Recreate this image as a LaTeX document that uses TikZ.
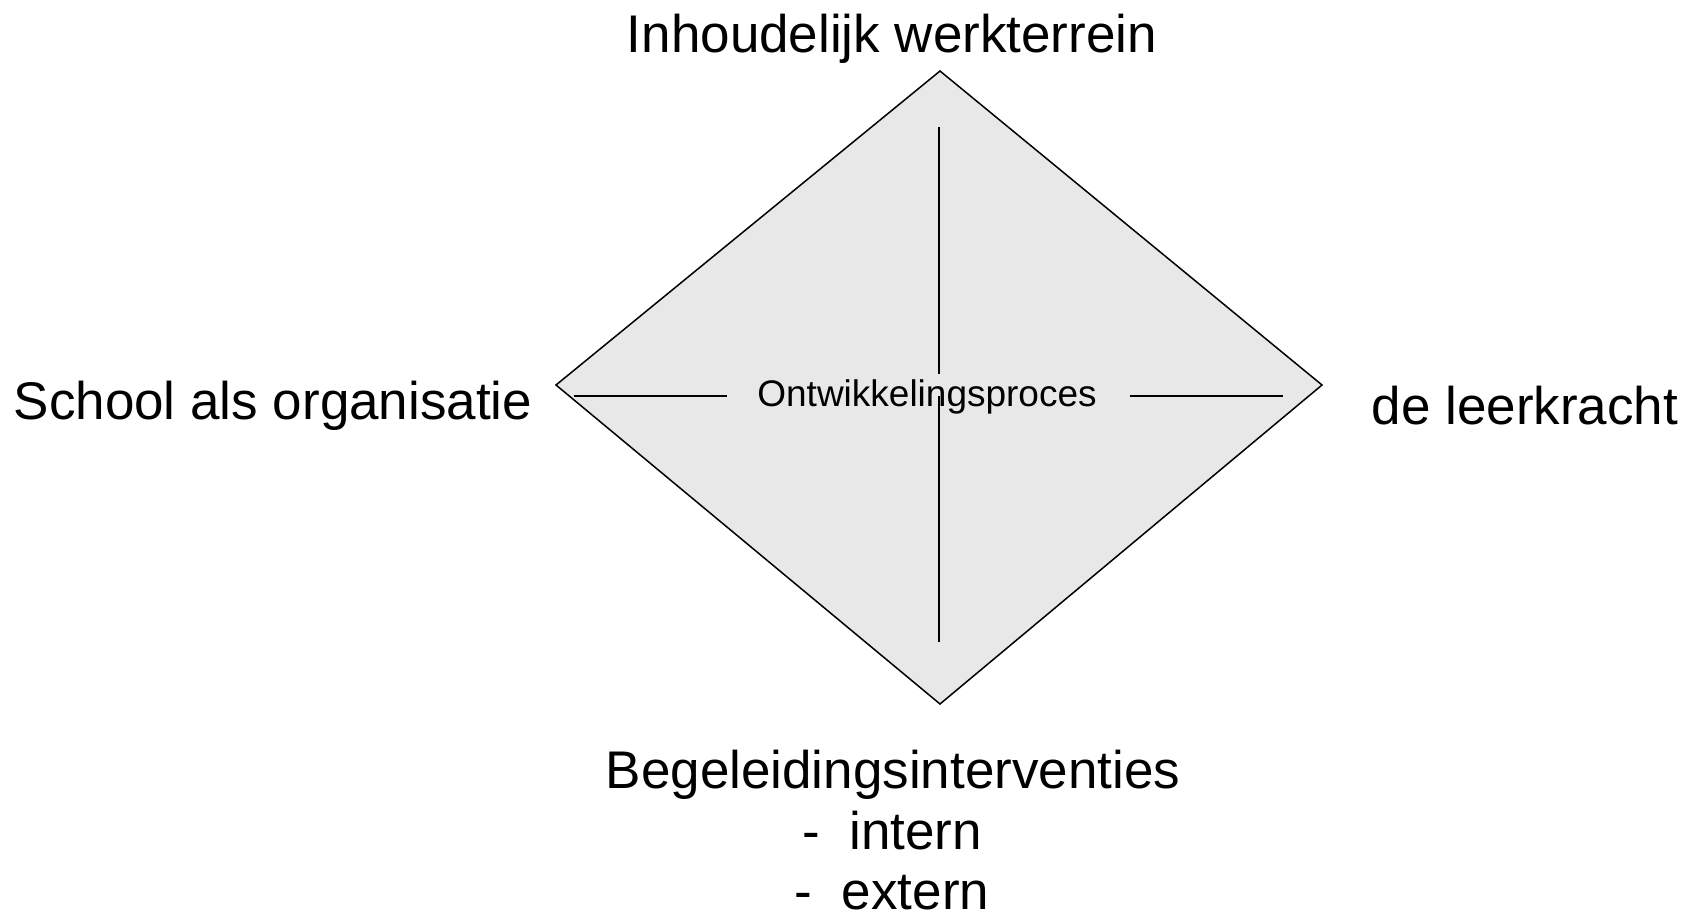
\documentclass[tikz,border=0pt]{standalone}
\usepackage{fontspec}
\setmainfont{Liberation Sans}
\definecolor{diafill}{HTML}{E8E8E8}
\begin{document}
\begin{tikzpicture}[x=1pt,y=-1pt,
  biglabel/.style={font=\fontsize{53}{62}\selectfont, inner sep=0pt, anchor=base},
  smalllabel/.style={font=\fontsize{37}{44}\selectfont, inner sep=0pt, anchor=base},
  edge/.style={draw=black, line width=1.5pt},
  axis/.style={draw=black, line width=1.5pt}]
\useasboundingbox (0,0) rectangle (1686,915);
\coordinate (T) at (940,71);
\coordinate (L) at (556,385);
\coordinate (R) at (1322,385);
\coordinate (B) at (940,704);
\filldraw[edge, fill=diafill, line join=miter] (T) -- (R) -- (B) -- (L) -- cycle;
\coordinate (v1) at (939,127);
\coordinate (v2) at (939,374);
\coordinate (v3) at (939,396);
\coordinate (v4) at (939,642);
\coordinate (h1) at (574,396);
\coordinate (h2) at (727,396);
\coordinate (h3) at (1130,396);
\coordinate (h4) at (1283,396);
\draw[axis] (v1) -- (v2);
\draw[axis] (v3) -- (v4);
\draw[axis] (h1) -- (h2);
\draw[axis] (h3) -- (h4);
\node[smalllabel] (center) at (927,406) {Ontwikkelingsproces};
\node[biglabel] (top) at (892,53) {Inhoudelijk werkterrein};
\node[biglabel] (left) at (273,419) {School als organisatie};
\node[biglabel] (right) at (1525,424) {de leerkracht};
\node[biglabel] (b1) at (893,788) {Begeleidingsinterventies};
\node[biglabel] (b2) at (892,849) {-\ \ intern};
\node[biglabel] (b3) at (892,909) {-\ \ extern};
\end{tikzpicture}
\end{document}
